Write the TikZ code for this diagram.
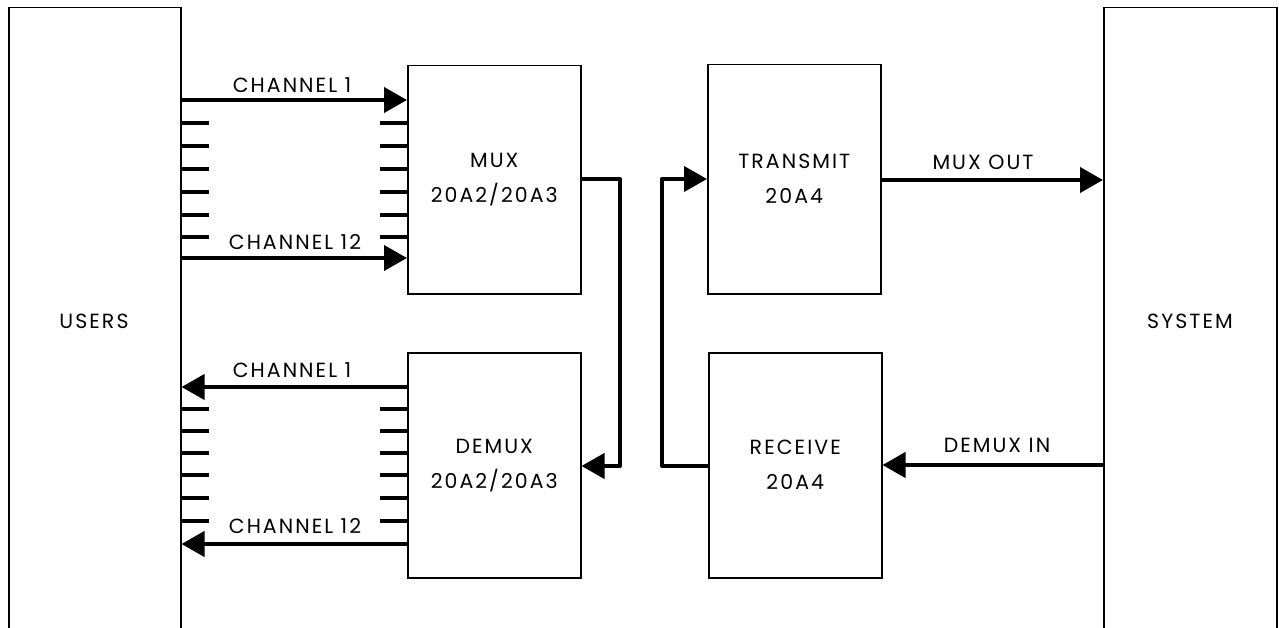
\documentclass[tikz,border=0pt]{standalone}
\usepackage{fontspec}
\setmainfont{Poppins}[LetterSpace=10]
\usetikzlibrary{arrows.meta,calc}
\begin{document}
\begin{tikzpicture}[x=1pt,y=-1pt,
  box/.style={draw, line width=1.5pt, rectangle, inner sep=0pt, align=center, font=\fontsize{20.5}{24}\selectfont},
  lbl/.style={font=\fontsize{20.5}{24}\selectfont, inner sep=0pt},
  arr/.style={line width=4pt, -{Triangle[length=23pt,width=25pt]}},
  stub/.style={line width=4pt}
]
\useasboundingbox (0,0) rectangle (1279,628);
\clip (0,0) rectangle (1279,628);
% big side blocks (open at the bottom)
\node[box, minimum width=172pt, minimum height=660pt, anchor=north west] (users) at (8,7) {};
\node[box, minimum width=173pt, minimum height=660pt, anchor=north west] (system) at (1103,7) {};
\node[lbl] (userslbl) at (94,321) {USERS};
\node[lbl] (systemlbl) at (1190,321) {SYSTEM};
% inner blocks
\node[box, minimum width=173pt, minimum height=228pt, anchor=north west] (mux) at (407,65) {MUX\\[11pt]20A2/20A3};
\node[box, minimum width=173pt, minimum height=225pt, anchor=north west] (demux) at (407,352) {DEMUX\\[11pt]20A2/20A3};
\node[box, minimum width=173pt, minimum height=229pt, anchor=north west] (tx) at (707,64) {TRANSMIT\\[11pt]20A4};
\node[box, minimum width=173pt, minimum height=225pt, anchor=north west] (rx) at (708,352) {RECEIVE\\[11pt]20A4};
% reference heights
\coordinate (a1) at (0,100);
\coordinate (a12) at (0,258);
\coordinate (b1) at (0,387);
\coordinate (b12) at (0,544);
\coordinate (m) at (0,179);
\coordinate (d) at (0,466);
\coordinate (xm) at (620,0);
\coordinate (xr) at (662,0);
% channel arrows
\draw[arr] (users.east |- a1) -- (mux.west |- a1);
\draw[arr] (users.east |- a12) -- (mux.west |- a12);
\draw[arr] (demux.west |- b1) -- (users.east |- b1);
\draw[arr] (demux.west |- b12) -- (users.east |- b12);
% stubs
\foreach \y in {123,146,169,192,215,237} {
  \draw[stub] (users.east |- 0,\y) -- ++(27,0);
  \draw[stub] (mux.west |- 0,\y) -- ++(-27,0);
}
\foreach \y in {409,431,453,475,498,521} {
  \draw[stub] (users.east |- 0,\y) -- ++(27,0);
  \draw[stub] (demux.west |- 0,\y) -- ++(-27,0);
}
\node[lbl] (l1) at (292,85) {CHANNEL 1};
\node[lbl] (l12) at (295,242) {CHANNEL 12};
\node[lbl] (l1b) at (292,370) {CHANNEL 1};
\node[lbl] (l12b) at (295,526) {CHANNEL 12};
% mux -> demux loop
\draw[arr, line join=round] (mux.east |- m) -- (xm |- m) -- (xm |- d) -- (demux.east |- d);
% receive -> transmit loop
\draw[arr, line join=round] (rx.west |- d) -- (xr |- d) -- (xr |- m) -- (tx.west |- m);
% system links
\coordinate (mo) at (0,180);
\coordinate (di) at (0,465);
\draw[arr] (tx.east |- mo) -- (system.west |- mo);
\draw[arr] (system.west |- di) -- (rx.east |- di);
\node[lbl] (muxout) at (983,162) {MUX OUT};
\node[lbl] (demuxin) at (997,445) {DEMUX IN};
\end{tikzpicture}
\end{document}
